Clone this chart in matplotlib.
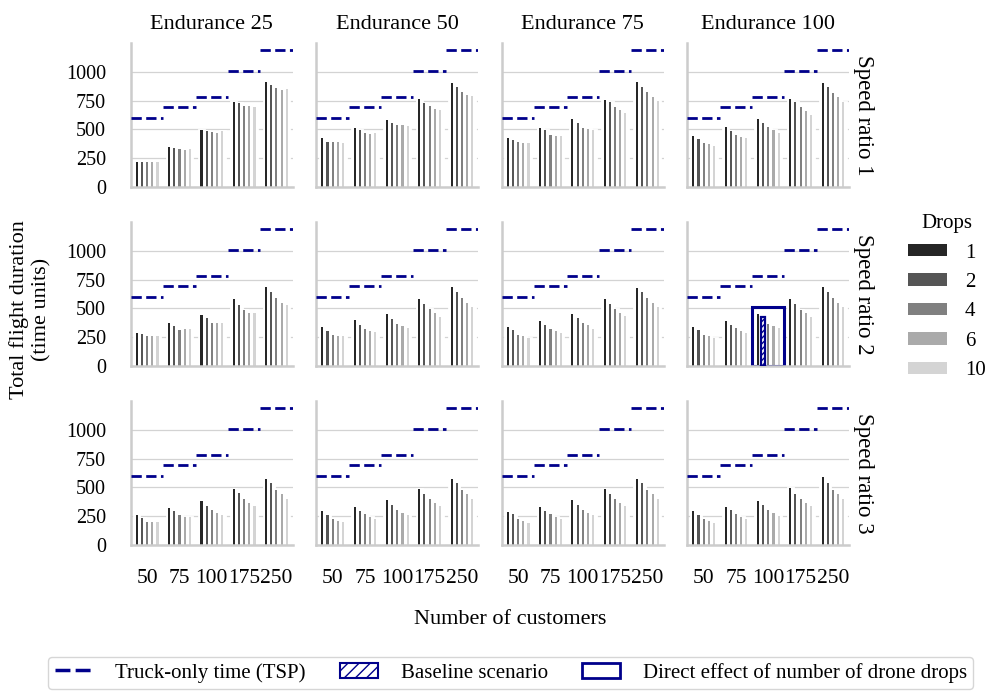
import matplotlib
matplotlib.use("Agg")
import matplotlib.pyplot as plt
from matplotlib.patches import Patch, Rectangle
from matplotlib.lines import Line2D
import numpy as np

plt.rcParams['font.family'] = ['Liberation Serif', 'DejaVu Serif']

customers = ['50', '75', '100', '175', '250']
drops = ['1', '2', '4', '6', '10']
endurances = [25, 50, 75, 100]
speed_ratios = [1, 2, 3]
tsp_time = [600, 695, 785, 1010, 1190]
drop_colors = ['#262626', '#555555', '#808080', '#aaaaaa', '#d4d4d4']
navy = '#00008b'

# flight durations: rows = customers (50,75,100,175,250), cols = drops (1,2,4,6,10)
s1_e25 = [[220, 220, 218, 216, 220], [343, 337, 328, 323, 334], [497, 483, 477, 471, 483],
          [741, 730, 706, 700, 692], [907, 887, 860, 843, 849]]
s1_e50 = [[427, 392, 387, 390, 384], [509, 494, 471, 462, 471], [584, 555, 541, 535, 532],
          [762, 733, 700, 680, 672], [904, 872, 828, 797, 788]]
s1_e75 = [[427, 410, 387, 384, 384], [509, 491, 451, 445, 445], [587, 558, 515, 506, 491],
          [759, 741, 692, 666, 645], [910, 869, 823, 782, 750]]
s1_e100 = [[439, 419, 384, 369, 358], [520, 488, 451, 430, 422], [590, 552, 520, 494, 471],
           [765, 738, 695, 663, 628], [904, 869, 820, 782, 735]]
s2_e25 = [[285, 276, 256, 259, 259], [375, 346, 314, 323, 320], [439, 416, 369, 372, 369],
          [578, 532, 488, 462, 462], [683, 640, 590, 549, 532]]
s2_e50 = [[337, 308, 273, 262, 262], [398, 360, 320, 308, 297], [453, 410, 366, 346, 328],
          [578, 535, 494, 456, 427], [686, 642, 590, 549, 515]]
s2_e75 = [[337, 314, 273, 259, 244], [392, 358, 323, 302, 288], [451, 416, 372, 355, 323],
          [584, 541, 491, 459, 430], [677, 642, 593, 549, 515]]
s2_e100 = [[340, 311, 270, 259, 241], [392, 358, 326, 302, 285], [448, 427, 366, 349, 326],
           [581, 535, 488, 459, 427], [686, 645, 593, 549, 515]]
s3_e25 = [[258, 232, 200, 200, 200], [325, 293, 258, 246, 243], [386, 342, 304, 275, 264],
          [490, 452, 400, 368, 339], [571, 539, 478, 441, 403]]
s3_e50 = [[293, 261, 229, 212, 197], [330, 299, 267, 246, 226], [394, 348, 304, 281, 261],
          [490, 446, 400, 368, 339], [574, 539, 478, 443, 403]]
s3_e75 = [[290, 267, 226, 209, 191], [330, 299, 270, 246, 226], [391, 348, 304, 281, 258],
          [487, 446, 403, 368, 339], [571, 539, 475, 443, 400]]
s3_e100 = [[299, 258, 226, 212, 188], [330, 304, 267, 246, 223], [386, 348, 304, 281, 255],
           [493, 443, 400, 368, 336], [588, 539, 475, 441, 403]]

panels = [[s1_e25, s1_e50, s1_e75, s1_e100],
          [s2_e25, s2_e50, s2_e75, s2_e100],
          [s3_e25, s3_e50, s3_e75, s3_e100]]

# highlighted scenario: speed ratio 2, endurance 100, 100 customers, 2 drops
hl_row, hl_col, hl_cust, hl_drop = 1, 3, 2, 1
hl_box_height = 515

fig, axes = plt.subplots(3, 4, figsize=(9.85, 6.91), dpi=100, sharex=True, sharey=True)
fig.subplots_adjust(left=0.133, right=0.862, bottom=0.2113, top=0.9378, wspace=0.148, hspace=0.243)

x = np.arange(len(customers))
bw = 0.8 / len(drops)
for r in range(3):
    for c in range(4):
        ax = axes[r, c]
        data = np.array(panels[r][c])
        ax.set_axisbelow(True)
        ax.yaxis.grid(True, color='#d3d3d3', lw=0.9)
        ax.xaxis.grid(False)
        for j in range(len(drops)):
            pos = x - 0.4 + bw * (j + 0.5)
            # white backing slot (hides the grid behind the bar group)
            ax.bar(pos, data[:, j], width=bw, color='white', edgecolor='white', linewidth=2.0, zorder=1.5)
            ax.bar(pos, data[:, j], width=0.065, color=drop_colors[j], linewidth=0, zorder=2)
        for i in range(len(customers)):
            ax.plot([i - 0.5, i + 0.5], [tsp_time[i], tsp_time[i]], color=navy, ls='--', lw=2.0, zorder=4)
        if r == hl_row and c == hl_col:
            pos = hl_cust - 0.4 + bw * (hl_drop + 0.5)
            ax.bar([pos], [data[hl_cust, hl_drop]], width=0.1, facecolor='white', edgecolor=navy,
                   hatch='//////', linewidth=1.6, zorder=3)
            ax.add_patch(Rectangle((hl_cust - 0.5, 0), 1, hl_box_height, fill=False, edgecolor=navy,
                                   lw=2.2, zorder=2.4))
        ax.set_xlim(-0.5, 4.5)
        ax.set_ylim(0, 1250)
        ax.set_yticks([0, 250, 500, 750, 1000])
        ax.set_xticks(x)
        ax.set_xticklabels(customers)
        for s in ['top', 'right']:
            ax.spines[s].set_visible(False)
        for s in ['left', 'bottom']:
            ax.spines[s].set_color('#cccccc')
            ax.spines[s].set_linewidth(1.8)
            ax.spines[s].set_zorder(2.5)
        ax.tick_params(axis='both', length=0)
        ax.tick_params(axis='y', pad=18, labelsize=14.5)
        ax.tick_params(axis='x', pad=17, labelsize=15.5)
        if r == 0:
            ax.set_title(f'Endurance {endurances[c]}', fontsize=16, pad=10)
        if c == 3:
            ax.annotate(f'Speed ratio {speed_ratios[r]}', xy=(1.0, 0.5), xycoords='axes fraction',
                        xytext=(3, 0), textcoords='offset points', rotation=270,
                        ha='left', va='center', fontsize=16.5)

fig.text(0.031, 0.552, 'Total flight duration\n(time units)', rotation=90, ha='center', va='center',
         fontsize=16, linespacing=1.25)
fig.text(0.518, 0.103, 'Number of customers', ha='center', va='center', fontsize=16)

drop_handles = [Patch(facecolor=col, edgecolor='none') for col in drop_colors]
leg1 = fig.legend(drop_handles, drops, title='Drops', loc='center left', bbox_to_anchor=(0.903, 0.57),
                  frameon=False, fontsize=15, title_fontsize=15, handlelength=1.87, handleheight=0.55,
                  handletextpad=0.85, labelspacing=0.5)

bottom_handles = [Line2D([], [], color=navy, ls=(0, (4.3, 1.5)), lw=2.5),
                  Patch(facecolor='white', edgecolor=navy, hatch='///', lw=1.5),
                  Patch(facecolor='none', edgecolor=navy, lw=2)]
bottom_labels = ['Truck-only time (TSP)', 'Baseline scenario', 'Direct effect of number of drone drops']
leg2 = fig.legend(bottom_handles, bottom_labels, loc='lower left', bbox_to_anchor=(0.049, 0.003, 0.939, 0.05),
                  mode='expand', ncol=3, fontsize=15, frameon=True, edgecolor='#cccccc', fancybox=True,
                  handlelength=1.8, handletextpad=1.1, borderpad=0.3, borderaxespad=0)

fig.savefig('out.png', dpi=100)
